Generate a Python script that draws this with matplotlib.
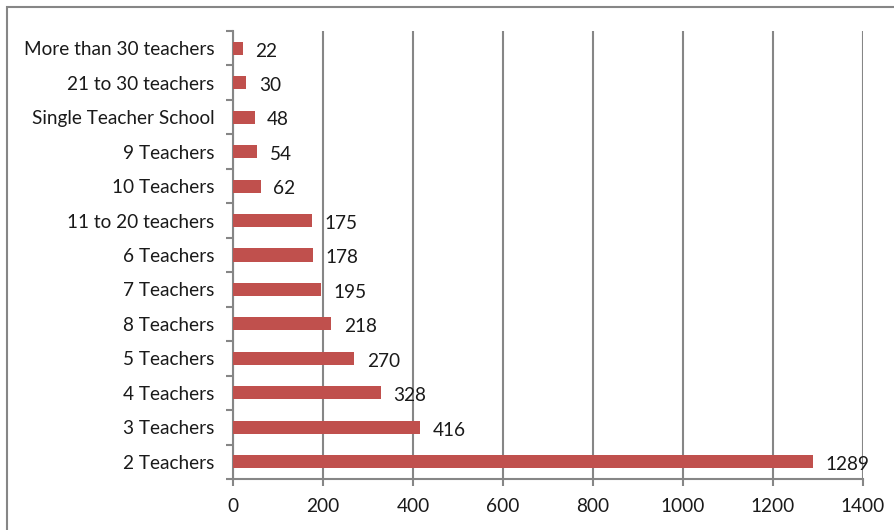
import matplotlib.pyplot as plt
import numpy as np
from matplotlib.patches import Rectangle

categorias = ['2 Teachers', '3 Teachers', '4 Teachers', '5 Teachers', '8 Teachers',
              '7 Teachers', '6 Teachers', '11 to 20 teachers', '10 Teachers',
              '9 Teachers', 'Single Teacher School', '21 to 30 teachers',
              'More than 30 teachers']
escuelas = [1289, 416, 328, 270, 218, 195, 178, 175, 62, 54, 48, 30, 22]
ticks_x = [0, 200, 400, 600, 800, 1000, 1200, 1400]

plt.rcParams['font.family'] = ['Lato', 'DejaVu Sans']
GRIS = '#868686'
FS = 13.7

fig = plt.figure(figsize=(8.95, 5.3), dpi=100)
ax = fig.add_axes([233 / 895, 51 / 530, 630 / 895, 448 / 530])

y = np.arange(len(categorias))
ax.barh(y, escuelas, height=0.38, color='#C0504D', zorder=3)

for yi, v in zip(y, escuelas):
    ax.annotate(str(v), (v, yi), xytext=(9, -2), textcoords='offset points',
                va='center', ha='left', fontsize=FS, color='#1a1a1a')

ax.set_xlim(0, 1400)
ax.set_ylim(-0.5, len(categorias) - 0.5)
ax.set_xticks(ticks_x)
ax.set_xticklabels([str(t) for t in ticks_x], fontsize=FS, color='#1a1a1a')
ax.set_yticks(y)
ax.set_yticklabels(categorias, fontsize=FS, color='#1a1a1a')
ax.set_yticks(np.arange(-0.5, len(categorias)), minor=True)
ax.tick_params(axis='y', which='major', length=0, pad=13.5)
ax.tick_params(axis='y', which='minor', length=5, width=1.5, color=GRIS, direction='out')
ax.tick_params(axis='x', length=5, width=1.5, color=GRIS, pad=9)

ax.grid(axis='x', color=GRIS, linewidth=1.5, zorder=0)
for s in ['top', 'right']:
    ax.spines[s].set_visible(False)
for s in ['left', 'bottom']:
    ax.spines[s].set_color(GRIS)
    ax.spines[s].set_linewidth(1.5)

# marco exterior (recortado a la derecha y abajo)
fig.patches.append(Rectangle((7 / 895, -0.1), 1.2, 1 - 7 / 530 + 0.1, transform=fig.transFigure,
                             fill=False, edgecolor=GRIS, linewidth=1.5))

fig.savefig('out.png', dpi=100)
